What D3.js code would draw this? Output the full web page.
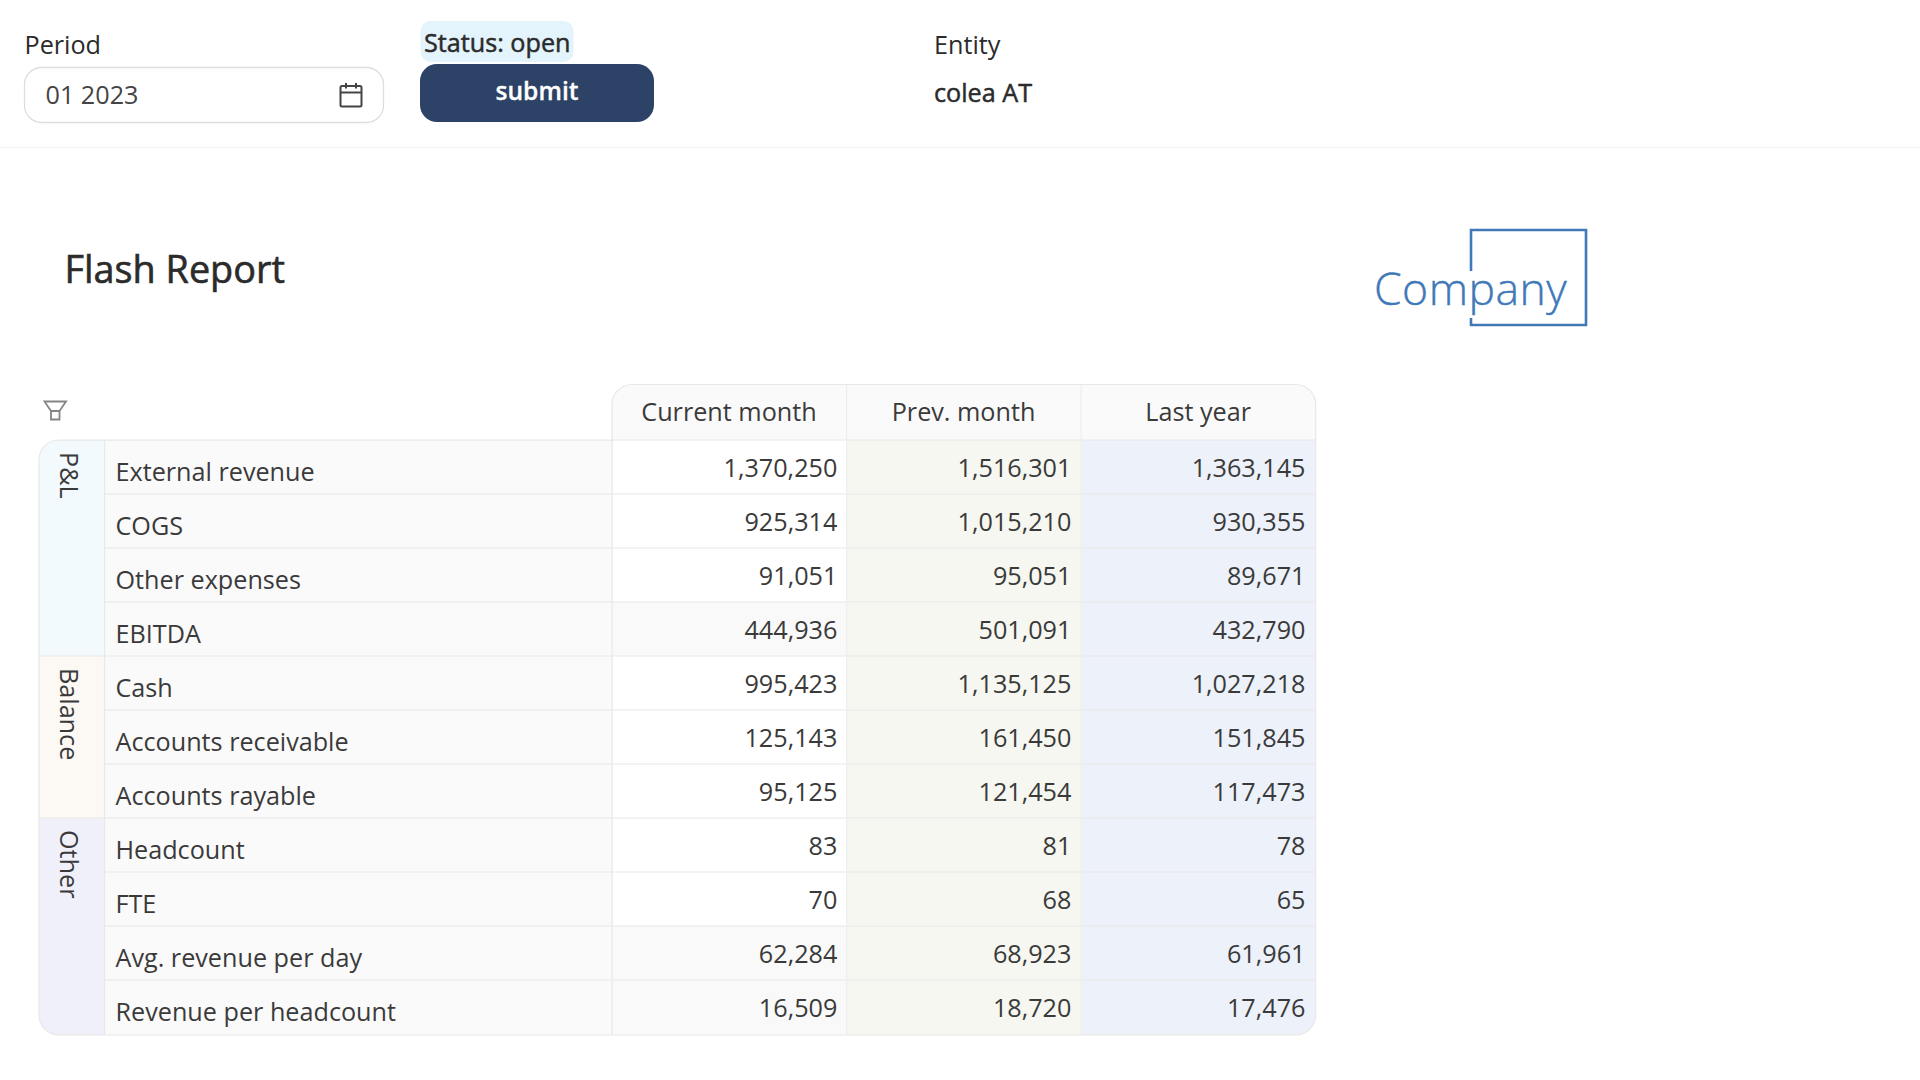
<!DOCTYPE html>
<html><head><meta charset="utf-8">
<script src="https://cdn.jsdelivr.net/npm/d3@7"></script>
<style>
html,body{margin:0;padding:0;background:#fff;overflow:hidden}
text{font-family:"Open Sans",sans-serif}
</style></head><body><svg id="c" width="1920" height="1080"></svg>
<script>
const columns = ["Current month","Prev. month","Last year"];
const rowNames = ["External revenue","COGS","Other expenses","EBITDA","Cash","Accounts receivable","Accounts rayable","Headcount","FTE","Avg. revenue per day","Revenue per headcount"];
const currentMonth = [1370250,925314,91051,444936,995423,125143,95125,83,70,62284,16509];
const prevMonth = [1516301,1015210,95051,501091,1135125,161450,121454,81,68,68923,18720];
const lastYear = [1363145,930355,89671,432790,1027218,151845,117473,78,65,61961,17476];
const groupNames = ["P&L","Balance","Other"];
const groupSizes = [4,3,4];
const shadedRows = ["EBITDA","Avg. revenue per day","Revenue per headcount"];

const svg = d3.select("#c");
const fmt = d3.format(",");
const seriesValues = [currentMonth,prevMonth,lastYear];
const TXT = "#3a3a3a", GRID = "#e8e8e8";

const y = d3.scaleBand().domain(rowNames).range([440,1034]);
const x = d3.scaleBand().domain(columns).range([612,1315.7]);
const colFill = d3.scaleOrdinal().domain(columns).range(["#ffffff","#f6f7f0","#edf1f9"]);
const groupFill = d3.scaleOrdinal().domain(groupNames).range(["#f3fafd","#fcf8f3","#f0f0fa"]);

const defs = svg.append("defs");
const L = 39, R = x.range()[1], T = 440, B = 1035, HT = 384.5, GR = 104.5, r = 20;
const outline = `M${L+r},${T}H${x.range()[0]}V${HT+r}A${r},${r} 0 0 1 ${x.range()[0]+r},${HT}H${R-r}A${r},${r} 0 0 1 ${R},${HT+r}V${B-r}A${r},${r} 0 0 1 ${R-r},${B}H${L+r}A${r},${r} 0 0 1 ${L},${B-r}V${T+r}A${r},${r} 0 0 1 ${L+r},${T}Z`;
defs.append("clipPath").attr("id","tbl").append("path").attr("d",outline);
const g = svg.append("g").attr("clip-path","url(#tbl)");

g.selectAll("rect.h").data(columns).join("rect").attr("class","h")
 .attr("x",d=>x(d)).attr("y",HT).attr("width",x.bandwidth()).attr("height",T-HT).attr("fill","#fafafa");

g.append("rect").attr("x",GR).attr("y",T).attr("width",x.range()[0]-GR).attr("height",B-T).attr("fill","#fafafa");

let start = 0;
const groups = groupNames.map((n,i)=>{const o={name:n,first:rowNames[start],last:rowNames[start+groupSizes[i]-1]};start+=groupSizes[i];return o;});
g.selectAll("rect.g").data(groups).join("rect").attr("class","g")
 .attr("x",L).attr("width",GR-L).attr("y",d=>y(d.first)).attr("height",(d,i)=> i===groups.length-1 ? B-y(d.first) : y(d.last)+y.bandwidth()-y(d.first))
 .attr("fill",d=>groupFill(d.name));

columns.forEach((c,ci)=>{
  g.selectAll("rect.v"+ci).data(rowNames).join("rect").attr("class","v"+ci)
   .attr("x",x(c)).attr("y",d=>y(d)).attr("width",x.bandwidth()).attr("height",y.bandwidth()+1)
   .attr("fill",d=> ci===0 && shadedRows.includes(d) ? "#f9f9f9" : colFill(c));
});

g.selectAll("line.r").data(rowNames).join("line").attr("class","r")
 .attr("x1",d=> groups.some(o=>o.first===d)?L:GR).attr("x2",R).attr("y1",d=>y(d)).attr("y2",d=>y(d))
 .attr("stroke",GRID).attr("stroke-width",1.2);
[GR,x.range()[0]].forEach(v=>g.append("line").attr("x1",v).attr("x2",v).attr("y1",T).attr("y2",B).attr("stroke",GRID).attr("stroke-width",1.2));
columns.forEach(c=>g.append("line").attr("x1",x(c)).attr("x2",x(c)).attr("y1",HT).attr("y2",B).attr("stroke","#eeeeee").attr("stroke-width",1.2));

svg.append("path").attr("fill","none").attr("stroke",GRID).attr("stroke-width",1.2).attr("d",outline);

const FS = 25.2;
svg.selectAll("text.hd").data(columns).join("text").attr("class","hd")
 .attr("x",d=>x(d)+x.bandwidth()/2-0.3).attr("y",421).attr("text-anchor","middle")
 .attr("font-size",FS).attr("fill",TXT).text(d=>d);
svg.selectAll("text.rn").data(rowNames).join("text").attr("class","rn")
 .attr("x",115.5).attr("y",d=>y(d)+41).attr("font-size",FS).attr("fill",TXT).text(d=>d);
columns.forEach((c,ci)=>{
  svg.selectAll("text.val"+ci).data(rowNames).join("text").attr("class","val"+ci)
   .attr("x",x(c)+x.bandwidth()-9.2-ci*0.5).attr("y",d=>y(d)+37).attr("text-anchor","end")
   .attr("font-size",FS).attr("fill",TXT).text((d,i)=>fmt(seriesValues[ci][i]));
});
svg.selectAll("text.gp").data(groups).join("text").attr("class","gp")
 .attr("transform",d=>`translate(60,${y(d.first)+12}) rotate(90)`)
 .attr("font-size",FS).attr("fill",TXT).text(d=>d.name);

svg.append("path").attr("d","M44.5,401.5H66L59.5,411V419.5H51V411Z M51,411H59.5").attr("fill","none").attr("stroke","#858585").attr("stroke-width",1.8);

svg.append("line").attr("x1",0).attr("x2",1920).attr("y1",147.5).attr("y2",147.5).attr("stroke","#f1f1f1").attr("stroke-width",1.2);
const lab=(x0,y0,s,fs,w,fill,anchor,sw)=>svg.append("text").attr("x",x0).attr("y",y0).attr("font-size",fs).attr("font-weight",w||400).attr("fill",fill||"#2b2b2b").attr("stroke",sw?(fill||"#2b2b2b"):"none").attr("stroke-width",sw||0).attr("text-anchor",anchor||"start").text(s);
lab(24.5,54,"Period",25.2);
svg.append("rect").attr("x",24.5).attr("y",67.5).attr("width",359).attr("height",55).attr("rx",17).attr("fill","#fff").attr("stroke","#dedede").attr("stroke-width",1.3);
lab(45.5,104,"01 2023",25.2,400,"#444");
svg.append("g").attr("fill","none").attr("stroke","#444").attr("stroke-width",2).call(s=>{
  s.append("rect").attr("x",340.5).attr("y",86).attr("width",21).attr("height",20.5).attr("rx",1.5);
  s.append("path").attr("d","M340.5,92.5H361.5M346,83V88.5M356,83V88.5");
});
svg.append("rect").attr("x",420.5).attr("y",21).attr("width",153).attr("height",41).attr("rx",10).attr("fill","#e3f4fc");
lab(424,52,"Status: open",25.2,400,"#2b2b2b","start",0.5);
svg.append("rect").attr("x",420).attr("y",64).attr("width",234).attr("height",58).attr("rx",17).attr("fill","#2c4266");
lab(537,100,"submit",24.6,600,"#ffffff","middle",0.3);
lab(934,54,"Entity",25.2);
lab(934,102,"colea AT",25.2,400,"#2b2b2b","start",0.5);
lab(64.5,282.5,"Flash Report",37.8,400,"#2b2b2b","start",0.6);

const BLUE="#4078b8";
svg.append("path").attr("d","M1471,271V230H1586V325H1471V318").attr("fill","none").attr("stroke",BLUE).attr("stroke-width",2.6);
svg.append("text").attr("x",1374).attr("y",305).attr("font-size",44.5).attr("font-family","Lato").attr("font-weight",300).attr("fill",BLUE).attr("stroke",BLUE).attr("stroke-width",0.4).attr("letter-spacing",0.5).text("Company");
</script></body></html>
